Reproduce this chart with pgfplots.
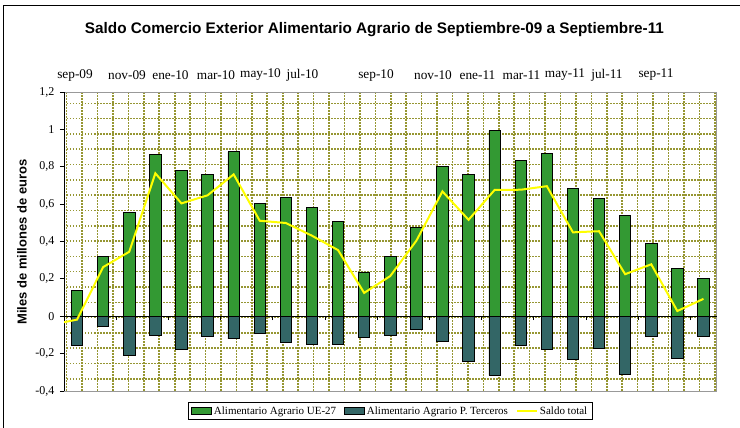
\documentclass[border=0pt]{standalone}
\usepackage{fontspec}
\setmainfont{Liberation Serif}
\newfontfamily\arialf{Liberation Sans}
\usepackage{pgfplots}
\pgfplotsset{compat=1.18}
\definecolor{ueg}{RGB}{51,153,51}
\definecolor{ptc}{RGB}{51,102,102}
\definecolor{sal}{RGB}{255,255,0}
\definecolor{dotc}{RGB}{150,150,50}
\begin{document}
\begin{tikzpicture}
\path[use as bounding box] (0,0) rectangle (740pt,428pt);
\draw[line width=1pt] (3.5pt,-5pt) -- (3.5pt,422pt) -- (745pt,422pt);
% background grid axis
\begin{axis}[at={(64pt,37pt)}, anchor=south west, scale only axis,
  width=652.5pt, height=299pt,
  xmin=-0.5, xmax=24.5, ymin=-0.4, ymax=1.2,
  xtick={-0.3966,0.1946,...,24.45},
  ytick={-0.3349,-0.2530,...,1.15},
  xticklabels={}, yticklabels={},
  major tick length=0pt,
  grid=major,
  major grid style={draw=dotc, line width=1.6pt, dash pattern=on 1.5pt off 1.5pt},
  axis line style={draw=gray!80, line width=0.9pt},
]
\end{axis}
% main axis
\begin{axis}[at={(64pt,37pt)}, anchor=south west, scale only axis,
  width=652.5pt, height=299pt,
  xmin=-0.5, xmax=24.5, ymin=-0.4, ymax=1.2,
  axis x line*=middle, axis y line*=left,
  axis line style={black, line width=0.9pt},
  xtick={1.5,3.5,5.5,7.5,9.5,11.5,13.5,15.5,17.5,19.5,21.5,23.5},
  xticklabels={},
  ytick={-0.4,-0.2,0,0.2,0.4,0.6,0.8,1,1.2},
  yticklabels={{-0,4},{-0,2},0,{0,2},{0,4},{0,6},{0,8},1,{1,2}},
  tick align=outside, major tick length=4pt,
  tick style={black, line width=0.9pt},
  yticklabel style={font=\fontsize{12}{13}\selectfont, xshift=-2pt},
  legend style={at={(0.5,-0.037)}, anchor=north, draw=black, line width=0.9pt,
    font=\fontsize{11}{13}\selectfont, inner xsep=3pt, inner ysep=2pt,
    /tikz/every even column/.append style={column sep=6pt}},
  legend columns=3,
  legend cell align=left,
]
\addplot[ybar, bar width=0.44, bar shift=0pt, fill=ueg, draw=black, line width=0.8pt,
  legend image code/.code={\draw[fill=ueg,draw=black,line width=0.8pt] (0pt,-3.5pt) rectangle (20pt,3.5pt);}]
coordinates {(0,0.137)(1,0.320)(2,0.557)(3,0.865)(4,0.780)(5,0.757)(6,0.880)(7,0.605)(8,0.638)(9,0.580)(10,0.507)(11,0.237)(12,0.320)(13,0.475)(14,0.803)(15,0.760)(16,0.993)(17,0.835)(18,0.872)(19,0.682)(20,0.629)(21,0.538)(22,0.388)(23,0.256)(24,0.203)};
\addlegendentry{Alimentario Agrario UE-27}
\addplot[ybar, bar width=0.44, bar shift=0pt, fill=ptc, draw=black, line width=0.8pt,
  legend image code/.code={\draw[fill=ptc,draw=black,line width=0.8pt] (0pt,-3.5pt) rectangle (20pt,3.5pt);}]
coordinates {(0,-0.155)(1,-0.057)(2,-0.212)(3,-0.100)(4,-0.176)(5,-0.110)(6,-0.121)(7,-0.094)(8,-0.139)(9,-0.149)(10,-0.153)(11,-0.112)(12,-0.105)(13,-0.071)(14,-0.135)(15,-0.244)(16,-0.317)(17,-0.158)(18,-0.176)(19,-0.233)(20,-0.174)(21,-0.313)(22,-0.110)(23,-0.228)(24,-0.110)};
\addlegendentry{Alimentario Agrario P. Terceros}
\addplot[sal, line width=2pt, mark=none,
  legend image code/.code={\draw[sal,line width=2pt] (0pt,0pt) -- (20pt,0pt);}]
coordinates {(-1,-0.046)(0,-0.018)(1,0.263)(2,0.345)(3,0.765)(4,0.604)(5,0.647)(6,0.759)(7,0.511)(8,0.499)(9,0.431)(10,0.354)(11,0.125)(12,0.215)(13,0.404)(14,0.668)(15,0.516)(16,0.676)(17,0.677)(18,0.696)(19,0.449)(20,0.455)(21,0.225)(22,0.278)(23,0.028)(24,0.093)};
\addlegendentry{Saldo total}
\end{axis}
% title, y label, top month labels
\node[font={\arialf\bfseries\fontsize{15.3}{17}\selectfont}] at (374.5pt,398pt) {Saldo Comercio Exterior Alimentario Agrario de Septiembre-09 a Septiembre-11};
\node[font={\arialf\bfseries\fontsize{13}{15}\selectfont}, rotate=90] at (22pt,186pt) {Miles de millones de euros};
\begin{scope}[every node/.style={font=\fontsize{13.3}{15}\selectfont}]
\node at (75pt,353pt) {sep-09};
\node at (127pt,353pt) {nov-09};
\node at (170.5pt,353pt) {ene-10};
\node at (216pt,353pt) {mar-10};
\node at (260.5pt,353pt) {may-10};
\node at (302.5pt,353pt) {jul-10};
\node at (376pt,353pt) {sep-10};
\node at (433pt,353pt) {nov-10};
\node at (477.5pt,353pt) {ene-11};
\node at (521.5pt,353pt) {mar-11};
\node at (565pt,353pt) {may-11};
\node at (607pt,353pt) {jul-11};
\node at (656pt,353pt) {sep-11};
\end{scope}
\end{tikzpicture}
\end{document}
